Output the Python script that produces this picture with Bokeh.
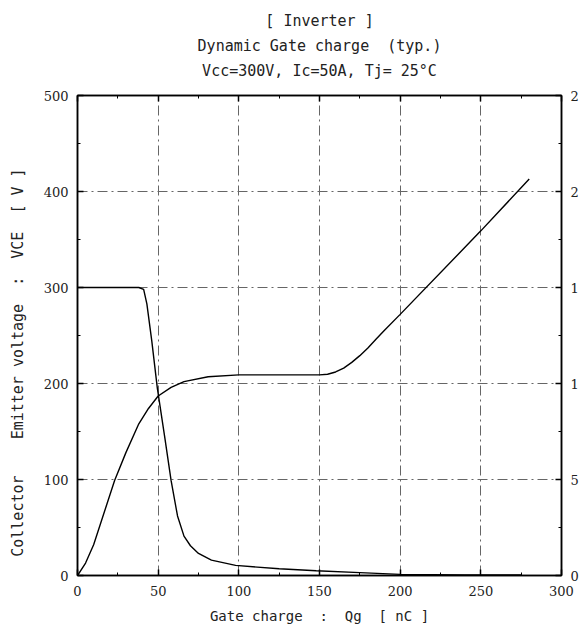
from bokeh.plotting import figure
from bokeh.models import LinearAxis, Range1d, Title, FixedTicker
from bokeh.embed import file_html
from bokeh.resources import INLINE

NB = "\u00a0"
# ---- data ----
title_lines = ["[ Inverter ]", "Dynamic Gate charge " + NB + "(typ.)", "Vcc=300V, Ic=50A, Tj= 25\u00b0C"]
x_label = "Gate charge " + NB + ": " + NB + "Qg " + NB + "[ nC ]"
y_label = "Collector " + NB * 3 + "Emitter voltage " + NB + ": " + NB + "VCE " + NB + "[ V ]" + NB * 6

x_ticks = [0, 50, 100, 150, 200, 250, 300]
x_minor = [25, 75, 125, 175, 225, 275]
y_ticks = [0, 100, 200, 300, 400, 500]
y_minor = [50, 150, 250, 350, 450]
vge_ticks = [0, 5, 10, 15, 20, 25]
vge_minor = [2.5, 7.5, 12.5, 17.5, 22.5]
vge_tick_text = ["0", "5", "1", "1", "2", "2"]   # as visible (cut at image edge)

# Collector-Emitter voltage VCE [V] vs gate charge Qg [nC]
qg_vce = [0, 38, 41, 43, 46, 49.5, 54, 58, 62, 66, 70, 75, 83, 98, 125, 148, 175, 200, 240, 275]
vce = [300, 300, 298, 283, 245, 195, 145, 99, 62, 41, 31, 23, 16, 10.5, 7, 5, 3, 1.2, 0.5, 0.5]

# Gate-Emitter voltage VGE [V] vs gate charge Qg [nC]
qg_vge = [0, 5, 10, 23, 30, 38, 44, 50, 58, 66, 81, 100, 150, 155, 160, 165, 170, 175, 180, 185, 190, 200, 250, 280]
vge = [0, 0.65, 1.6, 4.95, 6.4, 7.9, 8.7, 9.35, 9.8, 10.1, 10.35, 10.45, 10.45, 10.48, 10.6, 10.8,
       11.1, 11.45, 11.85, 12.3, 12.75, 13.6, 17.95, 20.65]

MONO = "DejaVu Sans Mono"
SERIF = "DejaVu Serif"

p = figure(width=581, height=626, x_range=Range1d(0, 300), y_range=Range1d(0, 500),
           output_backend="svg", toolbar_location=None, title=None,
           min_border_left=77, min_border_right=12, min_border_top=95, min_border_bottom=48)
p.extra_y_ranges = {"vge": Range1d(0, 25)}

p.background_fill_color = "white"
p.border_fill_color = "white"
p.outline_line_color = "black"
p.outline_line_width = 1.5

bottom = p.below[0]
left = p.left[0]

bottom.ticker = FixedTicker(ticks=x_ticks, minor_ticks=x_minor)
left.ticker = FixedTicker(ticks=y_ticks, minor_ticks=y_minor)
bottom.axis_label = x_label
left.axis_label = y_label

top = LinearAxis(ticker=FixedTicker(ticks=x_ticks, minor_ticks=x_minor))
top.major_label_overrides = {t: "" for t in x_ticks}
top.major_label_text_font_size = "1px"
top.major_label_standoff = 0
p.add_layout(top, "above")

# invisible spacer between the frame and the title block
spacer = LinearAxis(ticker=FixedTicker(ticks=[150], minor_ticks=[]))
spacer.major_label_overrides = {150: ""}
spacer.major_label_text_font_size = "1px"
spacer.major_label_standoff = 0
spacer.major_tick_in = 0
spacer.major_tick_out = 13
spacer.axis_line_color = None
spacer.major_tick_line_color = None
spacer.minor_tick_line_color = None
p.add_layout(spacer, "above")

right = LinearAxis(y_range_name="vge", ticker=FixedTicker(ticks=vge_ticks, minor_ticks=vge_minor))
right.major_label_overrides = {t: s for t, s in zip(vge_ticks, vge_tick_text)}
p.add_layout(right, "right")

for ax in [bottom, left, top, right]:
    ax.major_tick_in = 6
    ax.major_tick_out = 0
    ax.minor_tick_in = 3
    ax.minor_tick_out = 0
    ax.axis_line_width = 1.5
    ax.axis_line_color = "black"
    ax.major_tick_line_color = "black"
    ax.minor_tick_line_color = "black"
    ax.major_tick_line_width = 1.5
    ax.axis_label_text_font = MONO
    ax.axis_label_text_font_style = "normal"
    ax.axis_label_text_color = "#222222"
    ax.major_label_text_color = "#222222"

for ax in [bottom, left, right]:
    ax.major_label_text_font = SERIF
    ax.major_label_text_font_size = "13px"

bottom.major_label_standoff = 10
left.major_label_standoff = 9
right.major_label_standoff = 9

bottom.axis_label_text_font_size = "14px"
bottom.axis_label_standoff = 9
left.axis_label_text_font_size = "15px"
left.axis_label_standoff = 14

# grid
p.xgrid.ticker = FixedTicker(ticks=x_ticks)
p.ygrid.ticker = FixedTicker(ticks=y_ticks)
for g in [p.xgrid[0], p.ygrid[0]]:
    g.grid_line_color = "#666666"
    g.grid_line_width = 1
    g.grid_line_dash = "10 4 2 4"

# curves
p.line(qg_vce, vce, line_color="black", line_width=1.4)
p.line(qg_vge, vge, y_range_name="vge", line_color="black", line_width=1.4)

# titles (added nearest-first)
for t in reversed(title_lines):
    p.add_layout(Title(text=t, align="center", text_font=MONO, text_font_size="15px",
                       text_font_style="normal", text_color="#222222", standoff=5), "above")

open("out.html", "w").write(file_html(p, INLINE))
